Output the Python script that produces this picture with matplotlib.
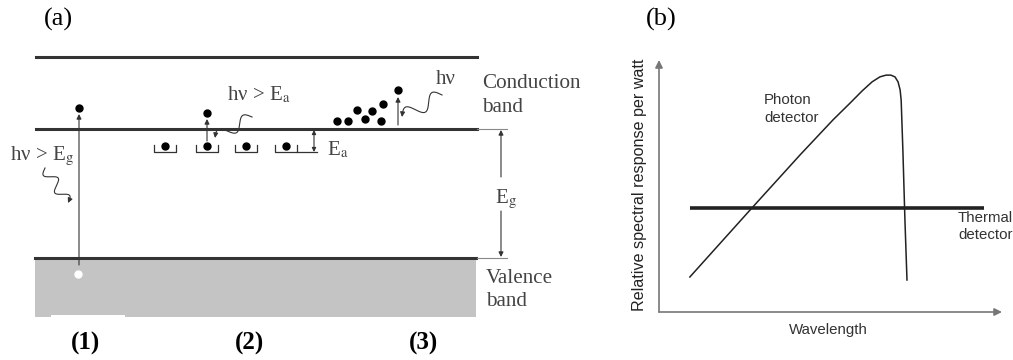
import numpy as np
import matplotlib
matplotlib.use("Agg")
import matplotlib.pyplot as plt
from matplotlib.patches import Rectangle

plt.rcParams["mathtext.fontset"] = "stix"

SERIF = "Liberation Serif"
SANS = "Liberation Sans"
TXT = "#444444"
LINE = "#333333"

# ---- panel (a): band diagram, in picture units (x right, y down) ----
band_x = [36, 477]
vacuum_y = 57
cond_y = 129
val_y = 258
val_bottom = 317
ext_x = [477, 507]

electron_1 = (79, 108)
hole_1 = (78, 274)
trap_x = [165, 207, 246, 286]
trap_y = 146
excited_2 = (207, 113)
cluster_x = [337, 348, 357, 365, 372, 381, 383]
cluster_y = [121, 121, 110, 119, 111, 121, 104]
excited_3 = (398, 90)
case_x = [85, 250, 424]
case_labels = ["(1)", "(2)", "(3)"]

# ---- panel (b): spectral response (arbitrary units) ----
photon_wl = [0.90, 2.71, 4.11, 5.07, 5.57, 5.92, 6.21, 6.44, 6.62, 6.76, 6.88,
             6.97, 7.03, 7.06, 7.11, 7.17, 7.23]
photon_resp = [1.39, 4.13, 6.23, 7.62, 8.29, 8.77, 9.13, 9.33, 9.40, 9.40, 9.33,
               9.13, 8.81, 8.41, 6.43, 3.65, 1.27]
thermal_wl = [0.90, 9.48]
thermal_resp = [4.13, 4.13]


def arrow(ax, start, end, style="-|>", lw=0.8, color=LINE, ms=7):
    ax.annotate("", xy=end, xytext=start,
                arrowprops=dict(arrowstyle=style, lw=lw, color=color,
                                mutation_scale=ms, shrinkA=0, shrinkB=0))


def wavy(ax, start, end, waves, amp):
    p0, p1 = np.array(start, float), np.array(end, float)
    d = p1 - p0
    u = d / np.hypot(*d)
    n = np.array([-u[1], u[0]])
    t = np.linspace(0, 1, 200)
    off = amp * np.sin(2 * np.pi * waves * t)
    pts = p0 + np.outer(t, d) + np.outer(off, n)
    ax.plot(pts[:-8, 0], pts[:-8, 1], color=LINE, lw=0.8)
    arrow(ax, pts[-9], p1, ms=7)


fig = plt.figure(figsize=(10.13, 3.6), dpi=100)
ax = fig.add_axes([0, 0, 1, 1])
ax.set_xlim(0, 1013)
ax.set_ylim(360, 0)
ax.axis("off")

# bands
ax.add_patch(Rectangle((band_x[0] - 1, val_y), band_x[1] - band_x[0], val_bottom - val_y,
                       color="#c4c4c4", lw=0))
ax.add_patch(Rectangle((51, val_bottom - 2), 74, 3, color="white", lw=0))
ax.plot(band_x, [vacuum_y] * 2, color=LINE, lw=2.2)
ax.plot(band_x, [cond_y] * 2, color=LINE, lw=2.2)
ax.plot([band_x[0] - 1, band_x[1] - 1], [val_y] * 2, color=LINE, lw=2.2)
ax.plot(ext_x, [cond_y] * 2, color="#888888", lw=0.8)
ax.plot(ext_x, [val_y] * 2, color="#888888", lw=0.8)

# (1) band-to-band
arrow(ax, (hole_1[0] + 1, 265), (electron_1[0], 114))
ax.plot(*electron_1, "o", color="black", ms=5)
ax.plot(*hole_1, "o", color="white", ms=5)
wavy(ax, (45, 168), (68, 203), 2, 5.5)
ax.text(10, 160, "hν > E$_\\mathrm{g}$", family=SERIF, fontsize=15, color=TXT, va="baseline")

# (2) impurity traps
for cx in trap_x:
    ax.plot([cx - 11, cx - 11, cx + 11, cx + 11], [trap_y - 1, trap_y + 6, trap_y + 6, trap_y - 1],
            color=LINE, lw=0.9)
    ax.plot(cx, trap_y, "o", color="black", ms=5)
ax.plot([trap_x[-1] + 11, 317], [trap_y + 6] * 2, color=LINE, lw=0.9)
ax.plot(*excited_2, "o", color="black", ms=5)
arrow(ax, (excited_2[0], 141), (excited_2[0], 119))
wavy(ax, (252, 117), (215, 138), 1.5, 6)
ax.text(227, 100, "hν > E$_\\mathrm{a}$", family=SERIF, fontsize=15, color=TXT, va="baseline")
arrow(ax, (314, cond_y + 1), (314, trap_y + 6), style="<|-|>", ms=6)
ax.text(327, 155, "E$_\\mathrm{a}$", family=SERIF, fontsize=15, color=TXT, va="baseline")

# (3) intrinsic free carriers
ax.plot(cluster_x, cluster_y, "o", color="black", ms=5, ls="none")
ax.plot(*excited_3, "o", color="black", ms=5)
arrow(ax, (excited_3[0], 125), (excited_3[0], 97))
wavy(ax, (442, 95), (402, 117), 1.5, 7)
ax.text(436, 84, "hν", family=SERIF, fontsize=15, color=TXT, va="baseline")

# Eg arrows
arrow(ax, (501, 177), (501, cond_y + 1))
arrow(ax, (501, 211), (501, val_y - 1))
ax.text(495, 203, "E$_\\mathrm{g}$", family=SERIF, fontsize=15, color=TXT, va="baseline")

ax.text(482, 88, "Conduction", family=SERIF, fontsize=15.2, color=TXT, va="baseline")
ax.text(482, 112, "band", family=SERIF, fontsize=15.2, color=TXT, va="baseline")
ax.text(486, 283, "Valence", family=SERIF, fontsize=15.2, color=TXT, va="baseline")
ax.text(486, 306, "band", family=SERIF, fontsize=15.2, color=TXT, va="baseline")

for cx, lab in zip(case_x, case_labels):
    ax.text(cx, 343, lab, family=SERIF, fontsize=18, weight="bold", ha="center", va="center")

ax.text(58, 19, "(a)", family=SERIF, fontsize=19, ha="center", va="center")
ax.text(661, 19, "(b)", family=SERIF, fontsize=19, ha="center", va="center")

# ---- panel (b) ----
bx = fig.add_axes([659 / 1013, 48 / 360, 343 / 1013, 252 / 360])
bx.set_xlim(0, 10)
bx.set_ylim(0, 10)
bx.axis("off")
arrow(bx, (0, 0), (0, 10), lw=1.2, color="#777777", ms=11)
arrow(bx, (0, 0), (10, 0), lw=1.2, color="#777777", ms=11)
bx.plot(thermal_wl, thermal_resp, color="#222222", lw=2.6, solid_capstyle="butt")
bx.plot(photon_wl, photon_resp, color="#222222", lw=1.1)

bx.text(3.06, 8.41, "Photon", family=SANS, fontsize=10.8, color="#333333", va="center")
bx.text(3.06, 7.70, "detector", family=SANS, fontsize=10.8, color="#333333", va="center")
bx.text(8.72, 3.73, "Thermal", family=SANS, fontsize=10.8, color="#333333", va="center")
bx.text(8.72, 3.06, "detector", family=SANS, fontsize=10.8, color="#333333", va="center")
bx.text(4.93, -0.71, "Wavelength", family=SANS, fontsize=10.8, color="#333333",
        ha="center", va="center")
bx.text(-0.58, 5.04, "Relative spectral response per watt", family=SANS, fontsize=11.6,
        color="#222222", rotation=90, ha="center", va="center")

fig.savefig("out.png", dpi=100)
